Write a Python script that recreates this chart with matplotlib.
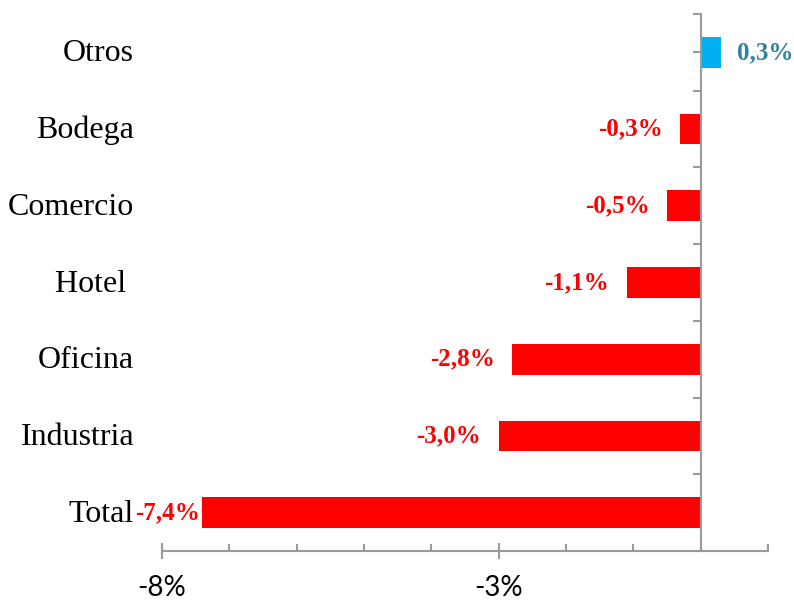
import matplotlib
matplotlib.use("Agg")
import matplotlib.pyplot as plt
from matplotlib.ticker import FixedLocator, MultipleLocator, FuncFormatter
from matplotlib.transforms import blended_transform_factory

# Variación por tipo de destino (%), de arriba hacia abajo
categories = ["Otros", "Bodega", "Comercio", "Hotel ", "Oficina", "Industria", "Total"]
values = [0.3, -0.3, -0.5, -1.1, -2.8, -3.0, -7.4]
value_labels = ["0,3%", "-0,3%", "-0,5%", "-1,1%", "-2,8%", "-3,0%", "-7,4%"]
x_tick_values = [-8, -3]
x_tick_labels = ["-8%", "-3%"]

RED = "#FF0000"
BLUE = "#00B0F0"
TEAL = "#31849B"
AXIS_GRAY = "#9a9a9a"
SERIF = ["Liberation Serif", "DejaVu Serif"]
SANS = ["Lato", "DejaVu Sans"]

fig = plt.figure(figsize=(7.94, 6.02), dpi=100)
ax = fig.add_axes([162 / 794, 1 - 551 / 602, (768 - 162) / 794, (551 - 14) / 602])

n = len(categories)
ypos = [n - 1 - i for i in range(n)]
colors = [BLUE if v > 0 else RED for v in values]
ax.barh(ypos, values, height=0.4, color=colors, zorder=2)

ax.set_xlim(-8, 1)
ax.set_ylim(-0.5, n - 0.5)

# Spines: vertical axis through zero, horizontal axis at the bottom
for side in ("top", "right"):
    ax.spines[side].set_visible(False)
ax.spines["left"].set_position(("data", 0))
for side in ("left", "bottom"):
    ax.spines[side].set_color(AXIS_GRAY)
    ax.spines[side].set_linewidth(1.5)

# X ticks: labelled majors crossing the axis, small inward minors every 1%
ax.xaxis.set_major_locator(FixedLocator(x_tick_values))
ax.xaxis.set_major_formatter(FuncFormatter(
    lambda v, p: x_tick_labels[x_tick_values.index(round(v))] if round(v) in x_tick_values else ""))
ax.xaxis.set_minor_locator(MultipleLocator(1))
ax.tick_params(axis="x", which="major", direction="inout", length=11, width=1.5,
               color=AXIS_GRAY, pad=12, labelsize=20)
ax.tick_params(axis="x", which="minor", direction="in", length=5, width=1.5, color=AXIS_GRAY)
for lbl in ax.get_xticklabels():
    lbl.set_family(SANS)

# Y ticks at category centres and boundaries, no tick labels
yt = [k * 0.5 - 0.5 for k in range(2 * n + 1)]
ax.set_yticks(yt)
ax.set_yticklabels([])
ax.tick_params(axis="y", direction="out", length=5.5, width=1.5, color=AXIS_GRAY)

# Category names at the left of the plot
trans = blended_transform_factory(fig.transFigure, ax.transData)
for y, name in zip(ypos, categories):
    ax.text(134 / 794, y - 0.02, name, transform=trans, ha="right", va="center",
            fontsize=23, family=SERIF, color="#000000")

# Value labels outside the bar ends
for y, v, lab in zip(ypos, values, value_labels):
    if v > 0:
        ax.annotate(lab, (v, y), xytext=(11.5, 0), textcoords="offset points",
                    ha="left", va="center", fontsize=18, fontweight="bold",
                    family=SERIF, color=TEAL)
    else:
        off = -1.5 if v < -7 else -12.5
        ax.annotate(lab, (v, y), xytext=(off, 0), textcoords="offset points",
                    ha="right", va="center", fontsize=18, fontweight="bold",
                    family=SERIF, color=RED)

fig.savefig("out.png", dpi=100)
